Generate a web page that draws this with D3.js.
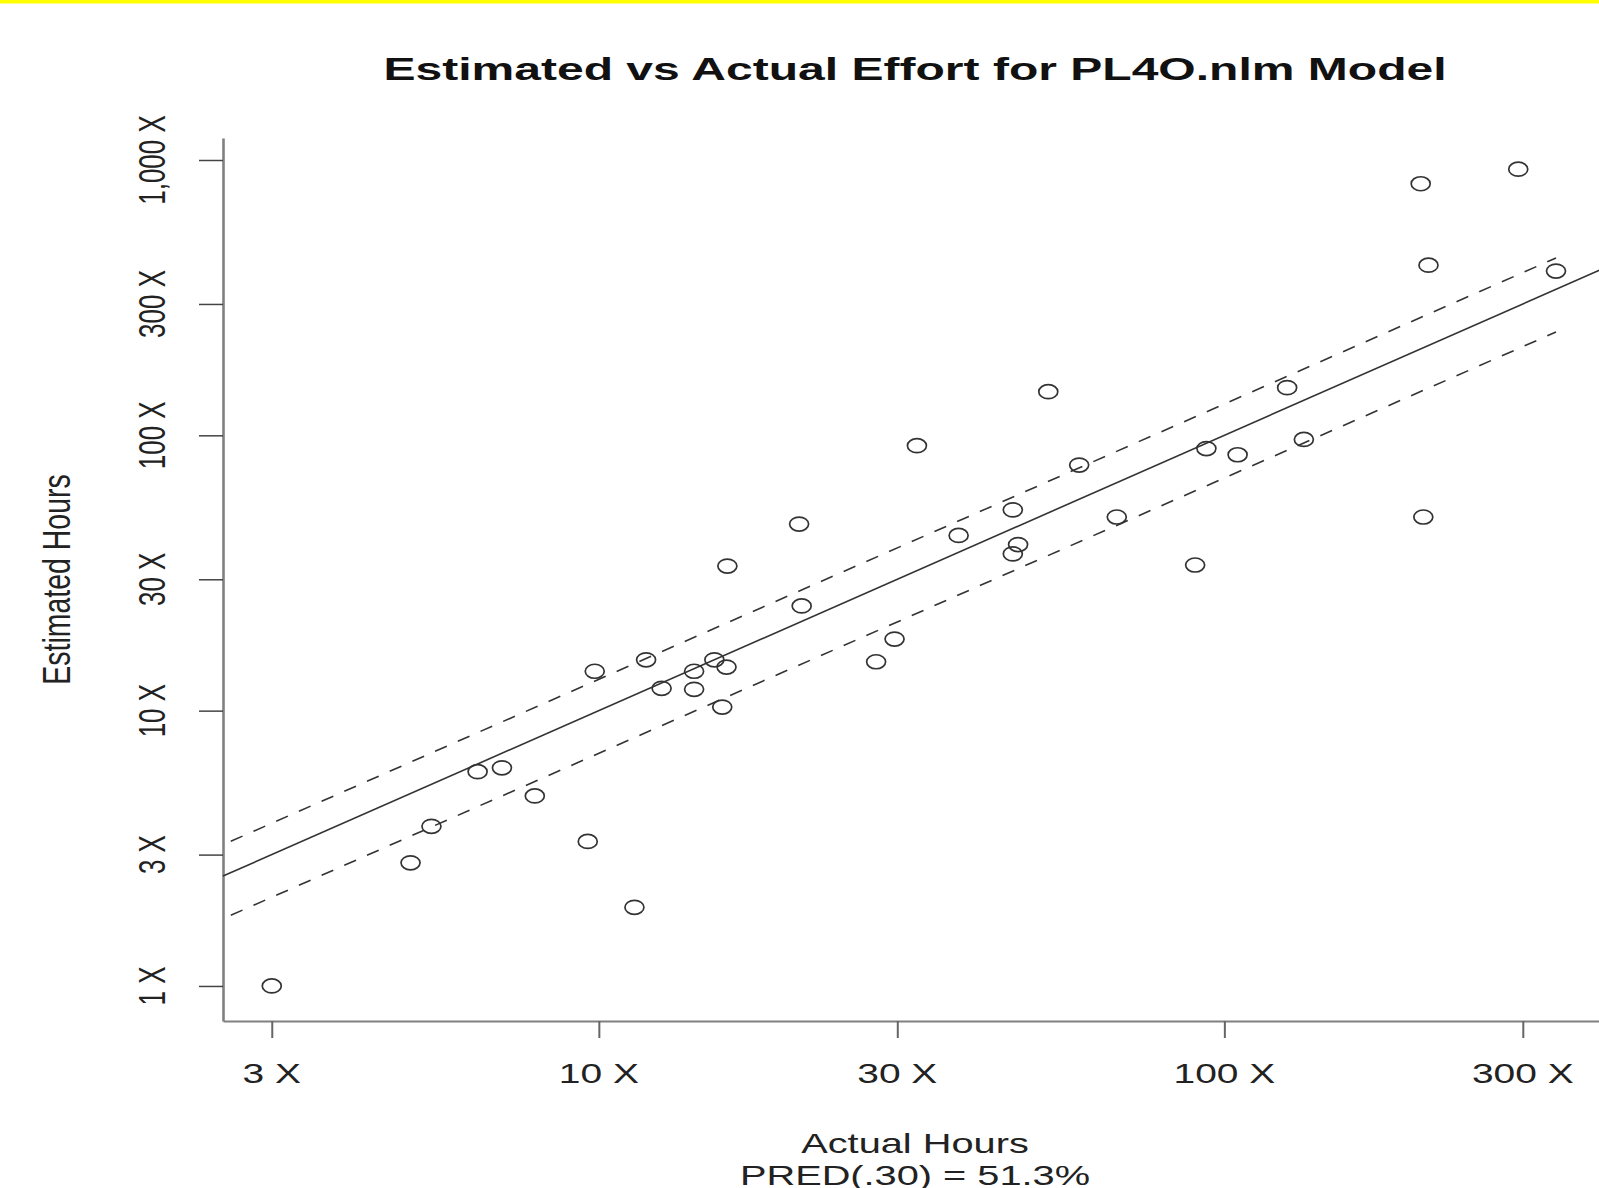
<!DOCTYPE html>
<html>
<head>
<meta charset="utf-8">
<script src="https://cdn.jsdelivr.net/npm/d3@7"></script>
<style>
  html, body { margin: 0; padding: 0; background: #fff; }
  svg { display: block; font-family: "Liberation Sans", Arial, Helvetica, sans-serif; }
</style>
</head>
<body>
<div id="chart"></div>
<script>
// actual vs estimated hours (log-log)
const actualHours = [3.0, 5.0, 5.4, 6.4, 7.0, 7.9, 9.6, 9.85, 11.4, 11.9,
  12.6, 14.2, 14.2, 15.3, 16.0, 15.75, 16.05, 20.9, 21.1, 27.75,
  29.7, 32.25, 37.6, 45.9, 46.8, 45.9, 52.3, 58.6, 67.3, 89.8,
  93.6, 105, 126, 134, 206, 212, 208, 295, 339];
const estimatedHours = [1.0, 2.8, 3.8, 6.0, 6.2, 4.9, 3.35, 13.9, 1.93, 15.3,
  12.05, 13.9, 11.95, 15.3, 14.4, 10.3, 33.5, 47.6, 24.0, 15.05,
  18.2, 91.7, 43.3, 53.6, 40.1, 37.1, 144, 78, 50.5, 33.8,
  89.5, 85, 149, 96.6, 820, 415, 50.5, 926, 395];

const xTickValues = [3, 10, 30, 100, 300];
const yTickValues = [1, 3, 10, 30, 100, 300, 1000];
const bandFactors = [0.7, 1.3];   // PRED(.30) limits
const bandRange = [2.58, 339];
const xLimits = [2.507, 409];
const yLimits = [0.746, 1202];

const titleText = "Estimated vs Actual Effort for PL4O.nlm Model";
const xLabel = ["Actual Hours", "PRED(.30) = 51.3%"];
const yLabel = "Estimated Hours";

const width = 1599, height = 1188;
const margin = { top: 138, right: -8, bottom: 167, left: 223 };
const stretch = 1.39; // the original picture is stretched sideways

const svg = d3.select("#chart").append("svg")
  .attr("width", width)
  .attr("height", height);

svg.append("rect")
  .attr("width", width).attr("height", 3.5)
  .attr("fill", "#ffff00");

const x = d3.scaleLog()
  .domain(xLimits)
  .range([margin.left, width - margin.right]);

const y = d3.scaleLog()
  .domain(yLimits)
  .range([height - margin.bottom, margin.top]);

// axes
const xAxis = svg.append("g")
  .attr("transform", `translate(0,${height - margin.bottom})`)
  .call(d3.axisBottom(x).tickValues(xTickValues).tickFormat("").tickSize(17).tickSizeOuter(0));
xAxis.select(".domain").attr("stroke", "#808080").attr("stroke-width", 2);
xAxis.selectAll(".tick line").attr("stroke", "#666").attr("stroke-width", 2);

const yAxis = svg.append("g")
  .attr("transform", `translate(${margin.left},0)`)
  .call(d3.axisLeft(y).tickValues(yTickValues).tickFormat("").tickSize(24).tickSizeOuter(0));
yAxis.select(".domain").attr("stroke", "#808080").attr("stroke-width", 2.6);
yAxis.selectAll(".tick line").attr("stroke", "#444").attr("stroke-width", 1.5);

const fmt = d3.format(",");

svg.append("g").selectAll("text")
  .data(xTickValues)
  .join("text")
  .attr("transform", d => `translate(${x(d)},1083) scale(${stretch},1)`)
  .attr("text-anchor", "middle")
  .attr("font-size", 28)
  .attr("fill", "#222")
  .text(d => `${fmt(d)} X`);

svg.append("g").selectAll("text")
  .data(yTickValues)
  .join("text")
  .attr("transform", d => `translate(165,${y(d)}) scale(1.42,1) rotate(-90)`)
  .attr("text-anchor", "middle")
  .attr("font-size", 26)
  .attr("fill", "#222")
  .text(d => `${fmt(d)} X`);

// reference lines: y = x, and the 30% band
const line = d3.line().x(d => x(d[0])).y(d => y(d[1]));

svg.append("path")
  .attr("d", line(xLimits.map(v => [v, v])))
  .attr("fill", "none")
  .attr("stroke", "#333")
  .attr("stroke-width", 1.6);

svg.append("g").selectAll("path")
  .data(bandFactors)
  .join("path")
  .attr("d", f => line(bandRange.map(v => [v, v * f])))
  .attr("fill", "none")
  .attr("stroke", "#333")
  .attr("stroke-width", 1.6)
  .attr("stroke-dasharray", "12.8 12");

// points
svg.append("g").selectAll("ellipse")
  .data(actualHours)
  .join("ellipse")
  .attr("cx", d => x(d))
  .attr("cy", (d, i) => y(estimatedHours[i]))
  .attr("rx", 9.5)
  .attr("ry", 7)
  .attr("fill", "none")
  .attr("stroke", "#333")
  .attr("stroke-width", 1.7);

const cx = (margin.left + width - margin.right) / 2;

svg.append("text")
  .attr("transform", `translate(${cx},80) scale(1.55,1)`)
  .attr("text-anchor", "middle")
  .attr("font-size", 31)
  .attr("font-weight", "bold")
  .attr("fill", "#111")
  .text(titleText);

svg.append("g").selectAll("text")
  .data(xLabel)
  .join("text")
  .attr("transform", (d, i) => `translate(${cx},${1153 + i * 32}) scale(1.42,1)`)
  .attr("text-anchor", "middle")
  .attr("font-size", 28)
  .attr("fill", "#222")
  .text(d => d);

svg.append("text")
  .attr("transform", `translate(70,${(margin.top + height - margin.bottom) / 2}) scale(1.33,1) rotate(-90)`)
  .attr("text-anchor", "middle")
  .attr("font-size", 28.5)
  .attr("fill", "#222")
  .text(yLabel);
</script>
</body>
</html>
